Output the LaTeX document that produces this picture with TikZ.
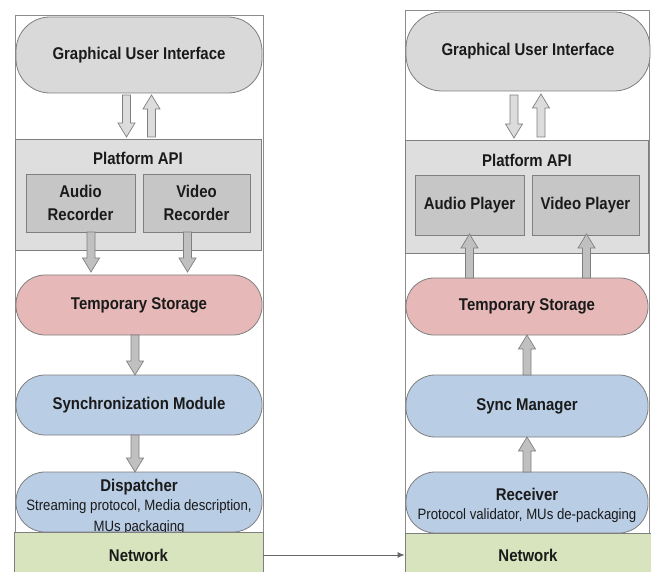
\documentclass[tikz,border=0pt]{standalone}
\usepackage{fontspec}
\setmainfont{Liberation Sans}[FakeStretch=0.88]
\usetikzlibrary{arrows.meta}
\definecolor{guifill}{HTML}{D9D9D9}
\definecolor{apifill}{HTML}{DEDEDE}
\definecolor{subfill}{HTML}{C6C6C6}
\definecolor{pinkfill}{HTML}{E6B9B8}
\definecolor{bluefill}{HTML}{B9CDE5}
\definecolor{greenfill}{HTML}{D7E4BD}
\definecolor{edgec}{HTML}{7F7F7F}
\definecolor{framec}{HTML}{8C8C8C}
\definecolor{txt}{HTML}{1A1A1A}
\definecolor{arrfill}{HTML}{C0C0C0}
\definecolor{arrlight}{HTML}{DCDCDC}
\newcommand\arrdown[4]{%
  \draw[#4] ({#1-4},#2) -- ({#1-4},{#3-14}) -- ({#1-8.5},{#3-14}) -- (#1,#3)
    -- ({#1+8.5},{#3-14}) -- ({#1+4},{#3-14}) -- ({#1+4},#2) -- cycle;}
\newcommand\arrup[4]{%
  \draw[#4] ({#1-4},#2) -- ({#1-4},{#3+14}) -- ({#1-8.5},{#3+14}) -- (#1,#3)
    -- ({#1+8.5},{#3+14}) -- ({#1+4},{#3+14}) -- ({#1+4},#2) -- cycle;}
\newcommand\subfont{\mdseries\fontsize{15}{20}\selectfont}
\tikzset{
  box/.style={draw=edgec, line width=0.8pt, inner sep=0pt, text=txt, align=center,
    font=\bfseries\fontsize{17}{23}\selectfont},
  stadium/.style={box, rounded corners=#1},
  panel/.style={draw=framec, line width=0.8pt},
  blk/.style={draw=edgec, line width=0.7pt, fill=arrfill},
  blklight/.style={draw=edgec, line width=0.7pt, fill=arrlight},
  conn/.style={draw=edgec!80!black, line width=0.9pt, -{Latex[length=7pt,width=6pt]}},
  lab/.style={text=txt, inner sep=0pt, align=center, font=\bfseries\fontsize{17}{20}\selectfont}
}
\begin{document}
\begin{tikzpicture}[x=1pt,y=-1pt]
\useasboundingbox (0,0) rectangle (651,572);
% panels
\draw[panel] (15,15) rectangle (263,590);
\draw[panel] (405,10) rectangle (649,590);

% ---------- left side ----------
\node[stadium=34, fill=guifill, minimum width=246pt, minimum height=76pt] (guiL) at (139,55) {Graphical User Interface};
\node[box, fill=apifill, minimum width=246pt, minimum height=111pt] (apiL) at (138,194.5) {};
\node[lab] (apilabL) at (138,158) {Platform API};
\node[box, fill=subfill, minimum width=109pt, minimum height=58pt] (arL) at (80.5,203) {Audio\\Recorder};
\node[box, fill=subfill, minimum width=107pt, minimum height=58pt] (vrL) at (196.5,203) {Video\\Recorder};
\node[stadium=29, fill=pinkfill, minimum width=246pt, minimum height=60pt] (tsL) at (139,305) {Temporary Storage};
\node[stadium=29, fill=bluefill, minimum width=246pt, minimum height=60pt] (smL) at (139,405) {Synchronization Module};
\node[stadium=29, fill=bluefill, minimum width=246pt, minimum height=60pt] (dispL) at (139,502) {};
\node[lab] (disptxt) at ([yshift=-4.5pt]dispL.center)
  {Dispatcher\\[-1pt]\subfont Streaming protocol, Media description,\\[1pt]\subfont MUs packaging};
\node[box, fill=greenfill, minimum width=249pt, minimum height=46pt] (netL) at (138.5,555) {};
\node[lab] (netlabL) at (138.5,555) {Network};

% left arrows
\arrdown{126.5}{95}{137}{blklight}
\arrup{151.5}{137}{95}{blklight}
\arrdown{91}{232}{272}{blk}
\arrdown{187.5}{232}{272}{blk}
\arrdown{135}{335}{375}{blk}
\arrdown{135}{435}{472}{blk}

% ---------- right side ----------
\node[stadium=36, fill=guifill, minimum width=244pt, minimum height=79pt] (guiR) at (528,51.5) {Graphical User Interface};
\node[box, fill=apifill, minimum width=243pt, minimum height=113pt] (apiR) at (526.5,196.5) {};
\node[lab] (apilabR) at (527,160) {Platform API};
\node[box, fill=subfill, minimum width=109pt, minimum height=60pt] (apR) at (469.5,205) {Audio Player};
\node[box, fill=subfill, minimum width=107pt, minimum height=60pt] (vpR) at (585.5,205) {Video Player};
\node[stadium=28, fill=pinkfill, minimum width=242pt, minimum height=57pt] (tsR) at (527,306.5) {Temporary Storage};
\node[stadium=29, fill=bluefill, minimum width=242pt, minimum height=62pt] (smR) at (527,406) {Sync Manager};
\node[stadium=29, fill=bluefill, minimum width=242pt, minimum height=61pt] (rcvR) at (527,502.5) {};
\node[lab] (rcvtxt) at ([yshift=-3pt]rcvR.center)
  {Receiver\\[-1pt]\subfont Protocol validator, MUs de-packaging};
\node[box, fill=greenfill, minimum width=246pt, minimum height=44pt] (netR) at (528,555) {};
\node[lab] (netlabR) at (528,555) {Network};

% right arrows
\arrdown{514}{95}{138}{blklight}
\arrup{541}{137}{94}{blklight}
\arrup{469.5}{278}{234}{blk}
\arrup{586.5}{278}{234}{blk}
\arrup{527}{375}{335}{blk}
\arrup{527}{472}{437}{blk}

% network link
\draw[conn] (netL.east) -- (netR.west);
\end{tikzpicture}
\end{document}
